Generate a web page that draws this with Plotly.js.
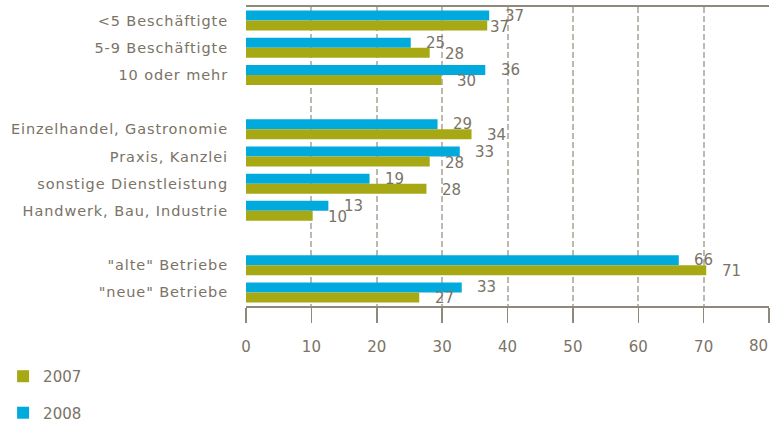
<!DOCTYPE html>
<html>
<head>
<meta charset="utf-8">
<script src="https://cdn.plot.ly/plotly-3.0.1.min.js"></script>
<style>
html,body{margin:0;padding:0;background:#fff;}
#chart{width:771px;height:426px;}
#chart .ytick text{letter-spacing:0.9px;}
</style>
</head>
<body>
<div id="chart"></div>
<script>
// --- data ---
const groupSize = ["<5 Beschäftigte", "5-9 Beschäftigte", "10 oder mehr"];
const groupBranch = ["Einzelhandel, Gastronomie", "Praxis, Kanzlei", "sonstige Dienstleistung", "Handwerk, Bau, Industrie"];
const groupAge = ['"alte" Betriebe', '"neue" Betriebe'];

const categories = [...groupSize, ...groupBranch, ...groupAge];
const values2007 = [36.9, 28.1, 29.9, 34.5, 28.1, 27.6, 10.2, 70.4, 26.5];
const values2008 = [37.2, 25.2, 36.6, 29.3, 32.7, 18.9, 12.6, 66.2, 33.0];
const labels2007 = [37, 28, 30, 34, 28, 28, 10, 71, 27];
const labels2008 = [37, 25, 36, 29, 33, 19, 13, 66, 33];
const seriesNames = ["2007", "2008"];
const xTicks = [0, 10, 20, 30, 40, 50, 60, 70, 80];

// --- build axis order with blank separator rows ---
const gap1 = " ", gap2 = "  ";
const yOrder = [...groupSize, gap1, ...groupBranch, gap2, ...groupAge];

const green = "#a6a814", blue = "#00aadd";
const textCol = "#7a7366", lineCol = "#8f897b", gridCol = "#bdb9b1";
const fam = "DejaVu Sans, sans-serif";

const trace2008 = {
  type: "bar", orientation: "h", name: seriesNames[1],
  y: categories, x: values2008, marker: {color: blue},
  legendgroup: "b", legendrank: 2, hoverinfo: "x+y"
};
const trace2007 = {
  type: "bar", orientation: "h", name: seriesNames[0],
  y: categories, x: values2007, marker: {color: green},
  legendgroup: "a", legendrank: 1, hoverinfo: "x+y"
};

// value labels
const labelOverride = {"2007|<5 Beschäftigte": 12};
const annotations = [];
categories.forEach((c, i) => {
  annotations.push({x: values2008[i], y: c, xref: "x", yref: "y", text: String(labels2008[i]),
    showarrow: false, xanchor: "center", yanchor: "middle",
    xshift: labelOverride["2008|" + c] ?? 25, yshift: 5,
    font: {family: fam, size: 15, color: textCol}});
  annotations.push({x: values2007[i], y: c, xref: "x", yref: "y", text: String(labels2007[i]),
    showarrow: false, xanchor: "center", yanchor: "middle",
    xshift: labelOverride["2007|" + c] ?? 25, yshift: -6,
    font: {family: fam, size: 15, color: textCol}});
});
// last x tick label sits inside the right edge in the reference
const lastTick = xTicks[xTicks.length - 1];
annotations.push({x: lastTick, xref: "x", y: 0, yref: "paper", text: String(lastTick),
  showarrow: false, xanchor: "right", yanchor: "top", xshift: 1, yshift: -29,
  font: {family: fam, size: 15, color: textCol}});

const layout = {
  width: 771, height: 426,
  margin: {l: 246, r: 2, t: 7, b: 120, pad: 0, autoexpand: false},
  paper_bgcolor: "#fff", plot_bgcolor: "#fff",
  font: {family: fam, color: textCol},
  barmode: "group", bargap: 0.265, bargroupgap: 0,
  xaxis: {
    range: [0, 80], tickvals: xTicks,
    ticktext: xTicks.map(v => v === lastTick ? "" : String(v)),
    showgrid: true, gridcolor: gridCol, gridwidth: 2, griddash: "6px,3px",
    zeroline: true, zerolinecolor: "rgba(0,0,0,0)",
    showline: true, linecolor: lineCol, linewidth: 2, mirror: true,
    ticks: "outside", ticklen: 15, tickwidth: 1.5, tickcolor: lineCol,
    ticklabelstandoff: 11,
    tickfont: {family: fam, size: 15, color: textCol}, fixedrange: true
  },
  yaxis: {
    type: "category", categoryorder: "array", categoryarray: yOrder,
    range: [10.5, -0.5],
    showgrid: false, zeroline: false, showline: false, ticks: "",
    ticklabelstandoff: 17,
    tickfont: {family: fam, size: 14.5, color: textCol}, fixedrange: true
  },
  showlegend: true,
  legend: {
    x: 0.004, xref: "container", xanchor: "left",
    y: 0.155, yref: "container", yanchor: "top",
    traceorder: "grouped", tracegroupgap: 14,
    font: {family: fam, size: 15, color: textCol},
    bgcolor: "rgba(0,0,0,0)"
  },
  annotations: annotations
};

Plotly.newPlot("chart", [trace2008, trace2007], layout, {displayModeBar: false, staticPlot: true});
</script>
</body>
</html>
